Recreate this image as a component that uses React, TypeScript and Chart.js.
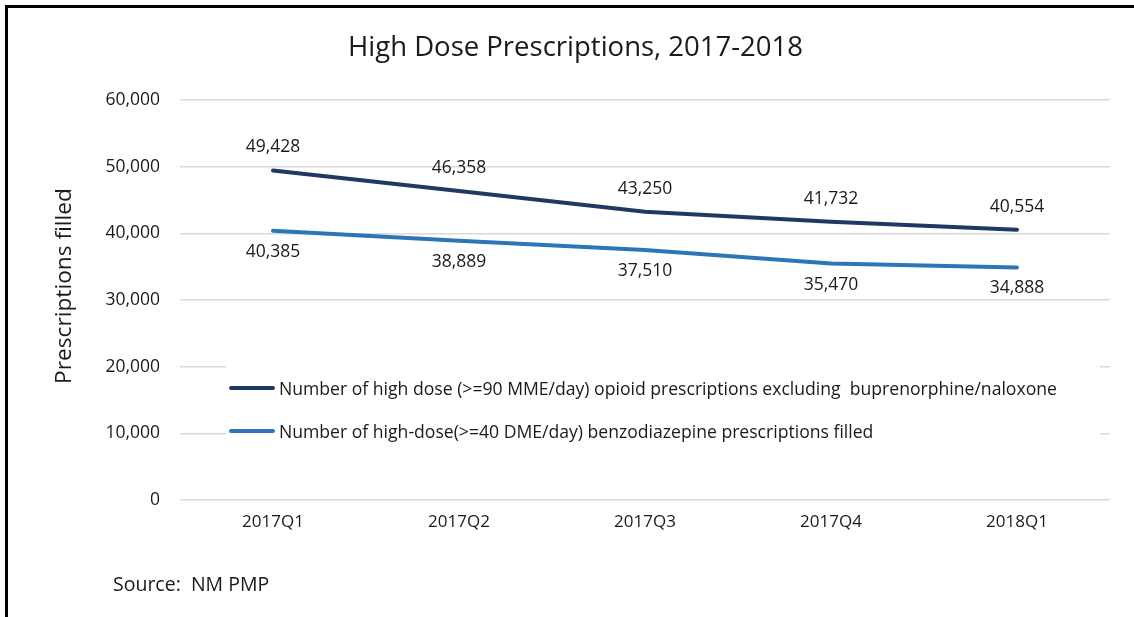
import React, { useEffect, useRef } from "react";
import { Chart, registerables } from "chart.js";

Chart.register(...registerables);

const categories = ["2017Q1", "2017Q2", "2017Q3", "2017Q4", "2018Q1"];
const opioidValues = [49428, 46358, 43250, 41732, 40554];
const benzoValues = [40385, 38889, 37510, 35470, 34888];
const opioidLabel =
  "Number of high dose (>=90 MME/day) opioid prescriptions excluding  buprenorphine/naloxone";
const benzoLabel =
  "Number of high-dose(>=40 DME/day) benzodiazepine prescriptions filled";
const titleText = "High Dose Prescriptions, 2017-2018";
const yTitle = "Prescriptions filled";
const sourceText = "Source:  NM PMP";

const FONT = "'Open Sans', Lato, sans-serif";
const DARK = "#203864";
const BLUE = "#2E75B6";
const TXT = "#1a1a1a";

const labelPlugin = {
  id: "valueLabels",
  afterDatasetsDraw(chart: any) {
    const ctx = chart.ctx;
    ctx.save();
    ctx.font = `17.5px ${FONT}`;
    ctx.fillStyle = TXT;
    ctx.textAlign = "center";
    ctx.textBaseline = "middle";
    chart.data.datasets.forEach((ds: any, di: number) => {
      const meta = chart.getDatasetMeta(di);
      meta.data.forEach((pt: any, i: number) => {
        const v = ds.data[i] as number;
        const dy = di === 0 ? -23 : 21;
        ctx.fillText(v.toLocaleString("en-US"), pt.x, pt.y + dy);
      });
    });
    ctx.restore();
  },
};

export default function App() {
  const ref = useRef<HTMLCanvasElement>(null);
  useEffect(() => {
    const chart = new Chart(ref.current as HTMLCanvasElement, {
      type: "line",
      data: {
        labels: categories,
        datasets: [
          {
            label: opioidLabel,
            data: opioidValues,
            borderColor: DARK,
            backgroundColor: DARK,
            borderWidth: 4,
            pointRadius: 0,
            tension: 0,
            borderCapStyle: "round",
          },
          {
            label: benzoLabel,
            data: benzoValues,
            borderColor: BLUE,
            backgroundColor: BLUE,
            borderWidth: 4,
            pointRadius: 0,
            tension: 0,
            borderCapStyle: "round",
          },
        ],
      },
      options: {
        animation: false,
        responsive: false,
        devicePixelRatio: 1,
        layout: { padding: { top: 100, right: 24, left: 0, bottom: 0 } },
        plugins: { legend: { display: false }, tooltip: { enabled: false } },
        scales: {
          x: {
            offset: true,
            grid: { display: false, drawTicks: false },
            border: { display: false },
            ticks: { padding: 12, color: TXT, font: { family: FONT, size: 17 } },
            afterFit: (s: any) => {
              s.height = 117;
            },
          },
          y: {
            min: 0,
            max: 60000,
            grid: { color: "#d9d9d9", lineWidth: 1.5, drawTicks: false },
            border: { display: false },
            ticks: {
              stepSize: 10000,
              padding: 20,
              color: TXT,
              font: { family: FONT, size: 17.5 },
              callback: (v: any) => Number(v).toLocaleString("en-US"),
            },
            afterFit: (s: any) => {
              s.width = 180;
            },
          },
        },
      },
      plugins: [labelPlugin],
    });
    return () => chart.destroy();
  }, []);

  const legendItem = (color: string, text: string, top: number) => (
    <div
      style={{
        position: "absolute",
        left: 3,
        top,
        height: 24,
        display: "flex",
        alignItems: "center",
        whiteSpace: "pre",
      }}
    >
      <span
        style={{
          display: "inline-block",
          width: 46,
          height: 4,
          borderRadius: 2,
          background: color,
          marginRight: 4,
        }}
      />
      <span style={{ fontSize: 17.6, color: TXT, fontFamily: FONT, lineHeight: "24px" }}>{text}</span>
    </div>
  );

  return (
    <div
      style={{
        position: "absolute",
        left: 0,
        top: 0,
        width: 1134,
        height: 617,
        background: "#fff",
        overflow: "hidden",
        fontFamily: FONT,
      }}
    >
      <canvas ref={ref} width={1134} height={617} style={{ position: "absolute", left: 0, top: 0 }} />
      <div
        style={{
          position: "absolute",
          left: 5,
          top: 5,
          width: 1140,
          height: 620,
          borderLeft: "3px solid #000",
          borderTop: "3px solid #000",
          pointerEvents: "none",
        }}
      />
      <div
        style={{
          position: "absolute",
          left: 0,
          width: 1151,
          top: 45,
          transform: "translateY(-50%)",
          textAlign: "center",
          fontSize: 27.5,
          color: TXT,
          whiteSpace: "pre",
        }}
      >
        {titleText}
      </div>
      <div
        style={{
          position: "absolute",
          left: 62,
          top: 286,
          transform: "translate(-50%, -50%) rotate(-90deg)",
          fontSize: 22.7,
          color: TXT,
          whiteSpace: "pre",
        }}
      >
        {yTitle}
      </div>
      <div
        style={{
          position: "absolute",
          left: 226,
          top: 360,
          width: 874,
          height: 88,
          background: "#fff",
        }}
      >
        {legendItem(DARK, opioidLabel, 16)}
        {legendItem(BLUE, benzoLabel, 59)}
      </div>
      <div
        style={{
          position: "absolute",
          left: 113,
          top: 583,
          transform: "translateY(-50%)",
          fontSize: 19.5,
          color: TXT,
          whiteSpace: "pre",
        }}
      >
        {sourceText}
      </div>
    </div>
  );
}
